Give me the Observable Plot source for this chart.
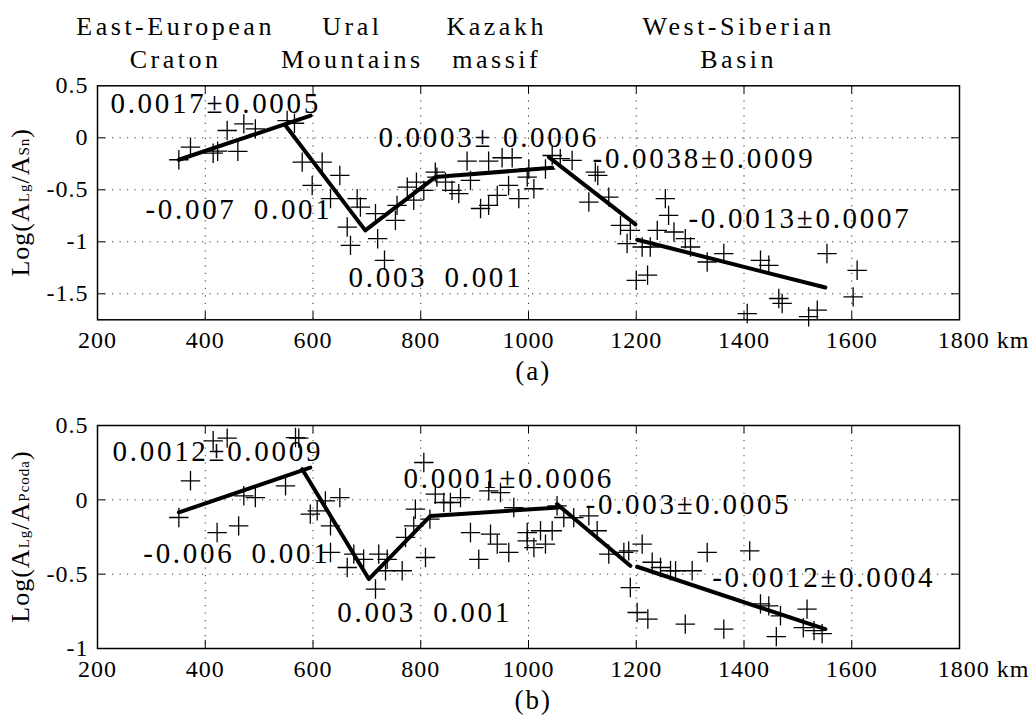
<!DOCTYPE html>
<html>
<head>
<meta charset="utf-8">
<script src="https://cdn.jsdelivr.net/npm/d3@7"></script>
<script src="https://cdn.jsdelivr.net/npm/@observablehq/plot@0.6"></script>
<style>
  html, body { margin: 0; padding: 0; background: #fff; }
  #chart svg { display: block; }
</style>
</head>
<body>
<div id="chart"></div>
<script>
// ---------- data ----------
const regions = ["East-European\nCraton", "Ural\nMountains", "Kazakh\nmassif", "West-Siberian\nBasin"];
const regionX = [345, 673, 941, 1390];

const xTicks = [200, 400, 600, 800, 1000, 1200, 1400, 1600];
const xLastTick = [1800];
const xInner = [400, 600, 800, 1000, 1200, 1400, 1600];

const yTicksA = [0.5, 0, -0.5, -1, -1.5];
const yInnerA = [0, -0.5, -1, -1.5];
const yTicksB = [0.5, 0, -0.5, -1];
const yInnerB = [0, -0.5];

// panel (a): Log(ALg/ASn)
const distA = [351, 372.6, 414.7, 423, 440.7, 471.6, 493, 460.5, 552, 565.6, 580, 617, 649.8, 598.5, 632.5, 682, 688, 716, 663.5, 669.6, 720, 732.7, 753, 756, 787, 775, 792, 805.7, 827, 830, 846, 858, 870.6, 892.3, 886, 926, 951, 969.7, 911, 926, 942, 963, 982, 997.6, 1010, 1000.6, 1031.5, 1044, 1059, 1081, 1124, 1128.6, 1149, 1112, 1170.8, 1189, 1183, 1211, 1226, 1200, 1221, 1254, 1260, 1239, 1270, 1291, 1300.7, 1331.7, 1362.5, 1430.6, 1446, 1464.6, 1470.8, 1406, 1536, 1520, 1554, 1610, 1602.6];
const valA = [-0.211, -0.09, -0.148, -0.129, 0.07, 0.134, 0.086, -0.131, 0.166, 0.14, -0.234, -0.234, -0.362, -0.458, -0.585, -0.585, -0.666, -0.73, -0.858, -1.034, -0.97, -1.178, -0.794, -0.65, -0.6, -0.474, -0.426, -0.506, -0.33, -0.378, -0.426, -0.506, -0.537, -0.41, -0.224, -0.224, -0.192, -0.192, -0.68, -0.65, -0.554, -0.458, -0.585, -0.378, -0.49, -0.3, -0.3, -0.17, -0.2, -0.218, -0.33, -0.362, -0.57, -0.618, -0.842, -0.89, -1.017, -1.05, -1.05, -1.37, -1.32, -0.585, -0.746, -0.89, -0.906, -0.97, -1.05, -1.194, -1.113, -1.178, -1.226, -1.545, -1.593, -1.69, -1.657, -1.72, -1.113, -1.274, -1.53];

const fitAx = [351, 595.6, 549, 697, 827, 1044, 1037.7, 1198.6, 1201.7, 1551];
const fitAy = [-0.211, 0.214, 0.118, -0.89, -0.378, -0.288, -0.186, -0.832, -0.98, -1.44];
const fitAseg = [1, 1, 2, 2, 2, 2, 3, 3, 4, 4];

const annotA = ["0.0017±0.0005", "-0.007\u20020.001", "0.003\u20020.001", "0.0003±\u00a00.0006", "-0.0038±0.0009", "-0.0013±0.0007"];
const annotAx = [224, 289, 666, 721.5, 1119, 1297];
const annotAy = [0.33, -0.69, -1.343, 0.0, -0.2, -0.776];

// panel (b): Log(ALg/APcoda)
const distB = [351, 372.6, 422, 462, 414.7, 440.7, 471.6, 493, 549, 567.5, 573.6, 595, 607.8, 623, 649.8, 632.5, 632.5, 663.5, 675.8, 694, 722, 737.7, 716, 734.6, 765.6, 771.7, 787, 790, 808.8, 805.7, 817, 827, 842.8, 855, 873.8, 892.3, 907.7, 926.3, 948, 929.5, 942, 963.4, 972.7, 997.6, 997.6, 1010, 1031.5, 1022.3, 1044, 1053, 1065.5, 1084, 1112, 1127.5, 1149, 1177, 1186, 1211, 1189, 1201.7, 1221.5, 1229.6, 1245, 1263.6, 1273, 1303.8, 1331.7, 1410.6, 1291, 1362.5, 1430.6, 1446, 1467.7, 1517, 1460, 1510, 1530, 1545];
const valB = [-0.119, 0.128, -0.22, -0.175, 0.397, 0.415, 0.027, 0.015, 0.094, 0.419, 0.415, -0.096, -0.074, -0.007, 0.015, -0.175, -0.354, -0.455, -0.365, -0.4, -0.365, -0.4, -0.6, -0.477, -0.477, -0.253, -0.175, -0.063, -0.388, 0.251, -0.13, 0.038, -0.018, -0.018, 0.015, -0.22, -0.4, 0.06, 0.049, -0.231, -0.298, -0.354, -0.052, -0.22, -0.276, -0.321, -0.298, -0.208, -0.208, -0.04, -0.119, -0.12, -0.108, -0.208, -0.365, -0.354, -0.343, -0.298, -0.59, -0.758, -0.802, -0.42, -0.455, -0.477, -0.477, -0.477, -0.354, -0.343, -0.836, -0.87, -0.7, -0.713, -0.78, -0.735, -0.92, -0.86, -0.88, -0.9];

const fitBx = [351, 595, 580, 703.6, 818, 1056, 1053, 1189, 1201.7, 1551];
const fitBy = [-0.085, 0.217, 0.206, -0.533, -0.108, -0.052, -0.029, -0.444, -0.45, -0.87];
const fitBseg = [1, 1, 2, 2, 2, 2, 3, 3, 4, 4];

const annotB = ["0.0012±0.0009", "-0.006\u20020.001", "0.003\u20020.001", "0.0001±0.0006", "-0.003±0.0005", "-0.0012±0.0004"];
const annotBx = [228, 285, 645, 768, 1106, 1341];
const annotBy = [0.323, -0.363, -0.76, 0.145, -0.034, -0.525];

const panelLabels = ["(a)", "(b)"];
const panelLabelX = 1009;
const yLabelA = [["Log(A", false], ["Lg", true], ["/A", false], ["Sn", true], [")", false]];
const yLabelB = [["Log(A", false], ["Lg", true], ["/A", false], ["Pcoda", true], [")", false]];

// ---------- drawing ----------
const W = 1034, ML = 97, MR = 75;

function panel(cfg) {
  const H = cfg.height - cfg.marginTop - cfg.marginBottom;
  const PW = W - ML - MR;
  const pts = cfg.dist.map((d, i) => ({x: d, y: cfg.val[i]}));
  const fit = cfg.fitX.map((d, i) => ({x: d, y: cfg.fitY[i], s: cfg.fitSeg[i]}));
  const ann = cfg.annot.map((t, i) => ({t, x: cfg.annotX[i], y: cfg.annotY[i]}));
  const grid = {stroke: "#000", strokeOpacity: 0.8, strokeWidth: 1, strokeDasharray: "1.2,6.3"};
  const marks = [
    Plot.gridX(xInner, grid),
    Plot.gridY(cfg.yInner, grid),
    Plot.ruleX(xInner, {insetTop: H - 8, stroke: "#000", strokeWidth: 1}),
    Plot.ruleX(xInner, {insetBottom: H - 8, stroke: "#000", strokeWidth: 1}),
    Plot.ruleY(cfg.yInner, {insetRight: PW - 8, stroke: "#000", strokeWidth: 1}),
    Plot.ruleY(cfg.yInner, {insetLeft: PW - 8, stroke: "#000", strokeWidth: 1}),
    Plot.axisX(xTicks, {anchor: "bottom", tickSize: 0, tickPadding: 11, fontSize: 24, tickFormat: d => String(d), label: null}),
    Plot.axisX(xLastTick, {anchor: "bottom", tickSize: 0, tickPadding: 11, fontSize: 24, tickFormat: d => d + " km", dx: 24, label: null}),
    Plot.axisY(cfg.yTicks, {anchor: "left", tickSize: 0, tickPadding: 9, fontSize: 24, tickFormat: d => String(d), label: null}),
    Plot.dot(pts, {x: "x", y: "y", symbol: "plus", r: 6.3, stroke: "#000", strokeWidth: 1.3}),
    Plot.line(fit, {x: "x", y: "y", z: "s", stroke: "#000", strokeWidth: 4}),
    Plot.text(ann, {x: "x", y: "y", text: "t", textAnchor: "start", fontSize: 29, fill: "#000"}),
    Plot.text([cfg.panelLabel], {x: () => panelLabelX, text: d => d, frameAnchor: "bottom", lineAnchor: "middle", dy: 52, fontSize: 27, fill: "#000"}),
    Plot.frame({stroke: "#000", strokeWidth: 1.5})
  ];
  if (cfg.regions) {
    marks.push(Plot.text(regions, {x: (d, i) => regionX[i], text: d => d, frameAnchor: "top", lineAnchor: "middle", dy: -44.8, fontSize: 26, lineHeight: 1.27, fill: "#000"}));
  }
  const svg = Plot.plot({
    width: W, height: cfg.height,
    marginLeft: ML, marginRight: MR, marginTop: cfg.marginTop, marginBottom: cfg.marginBottom,
    x: {domain: [200, 1800]},
    y: {domain: cfg.yDomain},
    style: {fontFamily: "'Liberation Serif', 'Times New Roman', serif", fontSize: "24px", background: "#fff", color: "#000"},
    marks
  });
  const s = d3.select(svg);
  s.selectAll("g").filter(function() { return this.getAttribute("font-size") === "29"; }).attr("letter-spacing", 2.7);
  s.selectAll("g").filter(function() { return this.getAttribute("font-size") === "26"; }).attr("letter-spacing", 3.5);
  s.selectAll("g").filter(function() { return this.getAttribute("font-size") === "27"; }).attr("letter-spacing", 2);
  s.selectAll("g").filter(function() { return this.getAttribute("font-size") === "24"; }).attr("letter-spacing", 1);
  const cy = cfg.marginTop + H / 2;
  const t = s.append("text")
    .attr("transform", `translate(29,${cy}) rotate(-90)`)
    .attr("text-anchor", "middle")
    .attr("font-size", 26)
    .attr("letter-spacing", 1)
    .attr("fill", "#000");
  cfg.yLabel.forEach(([str, sub]) => t.append("tspan").attr("font-size", sub ? 15 : 26).text(str));
  return svg;
}

const chart = document.getElementById("chart");
chart.appendChild(panel({
  height: 390, marginTop: 85.3, marginBottom: 70.7,
  dist: distA, val: valA, fitX: fitAx, fitY: fitAy, fitSeg: fitAseg,
  annot: annotA, annotX: annotAx, annotY: annotAy,
  yDomain: [-1.75, 0.5], yTicks: yTicksA, yInner: yInnerA,
  panelLabel: panelLabels[0], yLabel: yLabelA, regions: true
}));
chart.appendChild(panel({
  height: 327, marginTop: 35, marginBottom: 69,
  dist: distB, val: valB, fitX: fitBx, fitY: fitBy, fitSeg: fitBseg,
  annot: annotB, annotX: annotBx, annotY: annotBy,
  yDomain: [-1, 0.5], yTicks: yTicksB, yInner: yInnerB,
  panelLabel: panelLabels[1], yLabel: yLabelB, regions: false
}));
</script>
</body>
</html>
